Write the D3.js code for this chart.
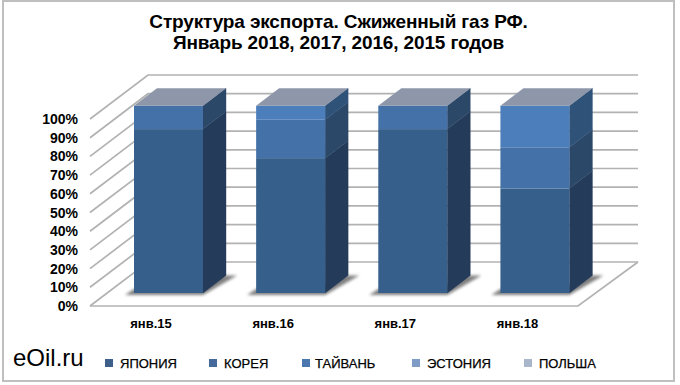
<!DOCTYPE html>
<html><head><meta charset="utf-8">
<script src="https://cdnjs.cloudflare.com/ajax/libs/d3/7.8.5/d3.min.js"></script>
<style>html,body{margin:0;padding:0;background:#fff}svg{display:block}text{font-family:"Liberation Sans",Arial,sans-serif;fill:#000}</style>
</head><body><svg id="c" width="680" height="385"></svg>
<script>
const titleLines=["Структура экспорта. Сжиженный газ РФ.","Январь 2018, 2017, 2016, 2015 годов"];
const categories=["янв.15","янв.16","янв.17","янв.18"];
const seriesNames=["ЯПОНИЯ","КОРЕЯ","ТАЙВАНЬ","ЭСТОНИЯ","ПОЛЬША"];
const japan=[87.5,72,87.5,55.8];
const korea=[12.5,20.5,12.5,22];
const taiwan=[0,7.5,0,22.2];
const estonia=[0,0,0,0];
const poland=[0,0,0,0];
const ticks=[0,10,20,30,40,50,60,70,80,90,100];
const frontColors=["#375f8b","#4472a8","#4c7ebc","#7f9cc6","#b4c2dc"];
const sideColors=["#243b5a","#2b4869","#2f5278","#4a6285","#7a889f"];
const legendColors=["#3d5f8a","#44699a","#4a77ae","#7f9cc6","#a9b6cc"];
const legendX=[105,209,302,412,524];

const svg=d3.select("#c");
const defs=svg.append("defs");
defs.append("filter").attr("id","blur").attr("x","-20%").attr("y","-50%").attr("width","140%").attr("height","200%")
  .append("feGaussianBlur").attr("stdDeviation",1.6);

// frame
svg.append("rect").attr("x",3).attr("y",1).attr("width",671).attr("height",380)
  .attr("fill","#fff").attr("stroke","#bfbfbf").attr("stroke-width",2);

// geometry
const dxWall=58,dyWall=-44,barW=69,depthX=23,depthY=-17.5;
const yWall=d3.scaleLinear().domain([0,100]).range([306,119]);
const yBar=d3.scaleLinear().domain([0,100]).range([293,105.7]);
const x=d3.scaleBand().domain(categories).range([134,569.5]).paddingInner(53/122).paddingOuter(0);
const xBar=c=>x(c);

const g=svg.append("g");
const gridStyle={stroke:"#b2b2b2","stroke-width":1.7,fill:"none"};
const applyStyle=(s)=>{for(const k in gridStyle)s.attr(k,gridStyle[k]);return s;};
const line=d3.line();

// left wall + back wall gridlines
applyStyle(g.selectAll("path.grid").data(ticks).join("path").attr("class","grid")
  .attr("d",t=>line([[90,yWall(t)],[90+dxWall,yWall(t)+dyWall],[638,yWall(t)+dyWall]])));
// floor
applyStyle(g.append("path").attr("d",line([[90,yWall(0)],[578,yWall(0)],[638,yWall(0)+dyWall]])));

// shadows
g.selectAll("path.shadow").data(categories).join("path").attr("class","shadow")
  .attr("fill","#555").attr("opacity",0.75).attr("filter","url(#blur)")
  .attr("d",c=>{const b=xBar(c);return line([[b-9,yBar(0)+2],[b+barW,yBar(0)+2],[b+barW+depthX+11,yBar(0)+depthY],[b+barW+depthX-4,yBar(0)+depthY],[b+barW,yBar(0)-8],[b,yBar(0)-4]])+"Z";});

// stacked bars
const series=[japan,korea,taiwan,estonia,poland];
const stack=d3.stack().keys(d3.range(series.length)).value((d,k)=>series[k][d])(d3.range(categories.length));
const bars=g.append("g");
stack.forEach((layer,k)=>{
  layer.forEach((d,i)=>{
    if(d[1]-d[0]<=0)return;
    const c=categories[i],b=xBar(c),y0=yBar(d[0]),y1=yBar(d[1]);
    bars.append("path").attr("fill",sideColors[k]).attr("stroke",sideColors[k]).attr("stroke-width",0.4)
      .attr("d",line([[b+barW,y0],[b+barW+depthX,y0+depthY],[b+barW+depthX,y1+depthY],[b+barW,y1]])+"Z");
    bars.append("rect").attr("x",b).attr("y",y1).attr("width",barW).attr("height",y0-y1).attr("fill",frontColors[k]);
  });
});
// tops
bars.selectAll("path.top").data(categories).join("path").attr("class","top").attr("fill","#8e97aa")
  .attr("d",c=>{const b=xBar(c),y=yBar(100);return line([[b,y],[b+depthX,y+depthY],[b+barW+depthX,y+depthY],[b+barW,y]])+"Z";});

// y labels
svg.selectAll("text.yl").data(ticks).join("text").attr("class","yl")
  .attr("x",78).attr("y",t=>yWall(t)+5).attr("text-anchor","end")
  .attr("font-size",14).attr("font-weight","bold").text(t=>t+"%");
// x labels
svg.selectAll("text.xl").data(categories).join("text").attr("class","xl")
  .attr("x",c=>x(c)+x.bandwidth()/2-17.5).attr("y",328).attr("text-anchor","middle")
  .attr("font-size",13).attr("font-weight","bold").text(c=>c);
// title
svg.selectAll("text.t").data(titleLines).join("text").attr("class","t")
  .attr("x",338.5).attr("y",(d,i)=>28+i*21).attr("text-anchor","middle")
  .attr("font-size",19).attr("font-weight","bold").attr("letter-spacing",-0.14).text(d=>d);
// brand
svg.append("text").attr("x",13).attr("y",366).attr("font-size",24).text("eOil.ru");
// legend
const leg=svg.selectAll("g.l").data(seriesNames).join("g").attr("class","l")
  .attr("transform",(d,i)=>`translate(${legendX[i]},359)`);
leg.append("rect").attr("width",8).attr("height",8).attr("fill",(d,i)=>legendColors[i]);
leg.append("text").attr("x",(d,i)=>i===2?13:15).attr("y",9).attr("font-size",13)
  .attr("stroke","#000").attr("stroke-width",0.25).text(d=>d);
</script></body></html>
